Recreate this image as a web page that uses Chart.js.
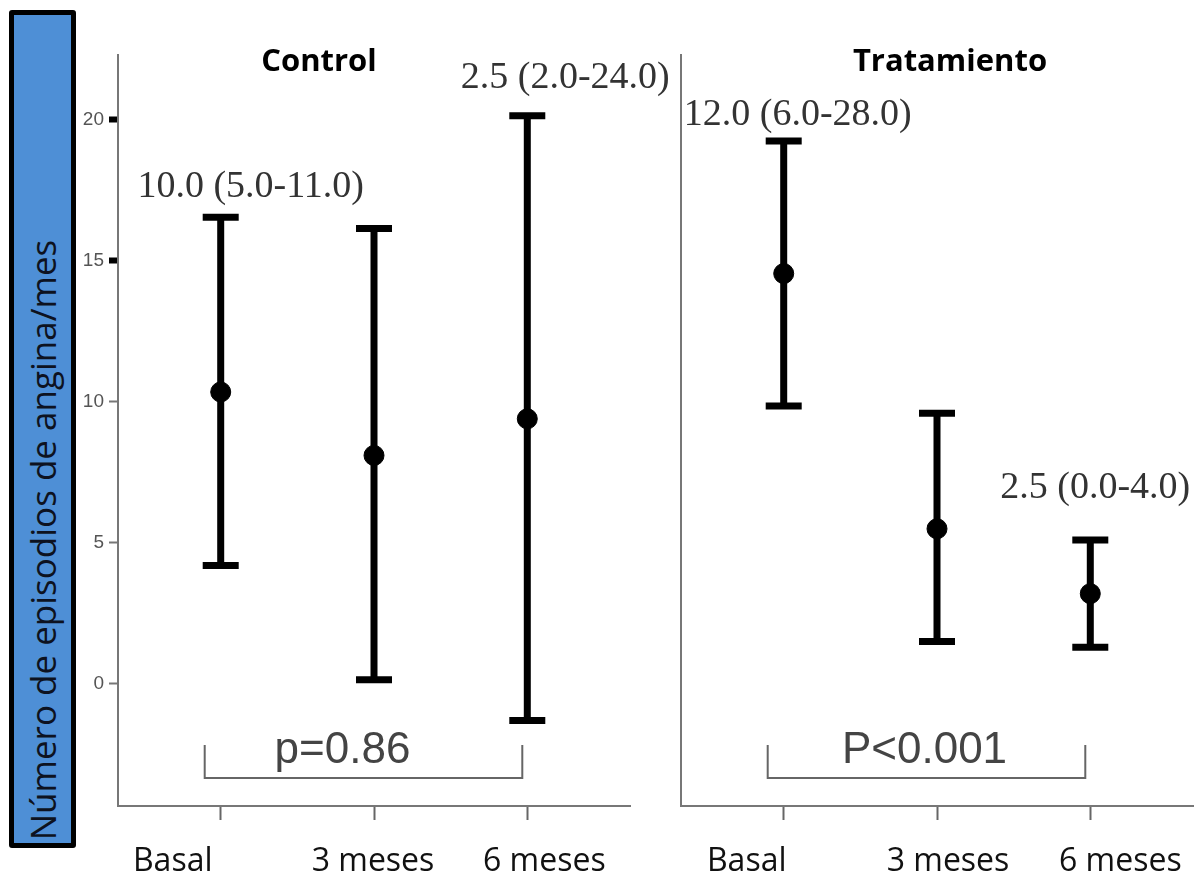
<!DOCTYPE html>
<html>
<head>
<meta charset="utf-8">
<script src="https://cdn.jsdelivr.net/npm/chart.js@4.4.0/dist/chart.umd.min.js"></script>
<style>
    body { margin: 0; background: #fff; width: 1196px; height: 882px; overflow: hidden; position: relative; }
    #ylabel-box { position: absolute; left: 9px; top: 10px; width: 57px; height: 828px; background: #4e8fd6; border: 5px solid #000; border-radius: 3px; }
    #ylabel-text { position: absolute; left: 42px; top: 540px; transform: translate(-50%, -50%) rotate(-90deg); white-space: nowrap;
                   font-family: 'Open Sans', sans-serif; font-size: 35px; color: #0d1220; }
    canvas { position: absolute; top: 0; }
    #chartL { left: 0; }
    #chartR { left: 640px; }
</style>
</head>
<body>
<div id="ylabel-box"></div>
<div id="ylabel-text">Número de episodios de angina/mes</div>
<canvas id="chartR" width="556" height="882"></canvas>
<canvas id="chartL" width="700" height="882"></canvas>
<script>
// === Data ===
const groups = ['Basal', '3 meses', '6 meses'];
const groupPos = [1, 2, 3];
const yTicks = [0, 5, 10, 15, 20];

const ctrlMean = [10.35, 8.1, 9.4];
const ctrlLow = [4.2, 0.15, -1.3];
const ctrlHigh = [16.55, 16.15, 20.15];
const ctrlNotes = ['10.0 (5.0-11.0)', '', '2.5 (2.0-24.0)'];
const ctrlP = 'p=0.86';

const tratMean = [14.55, 5.5, 3.2];
const tratLow = [9.85, 1.5, 1.3];
const tratHigh = [19.25, 9.6, 5.1];
const tratNotes = ['12.0 (6.0-28.0)', '', '2.5 (0.0-4.0)'];
const tratP = 'P<0.001';

// === Overlay text plugin (titles, notes, brackets, x labels) ===
const overlayPlugin = {
    id: 'overlay',
    afterDraw(chart) {
        const o = chart.options.plugins.overlay;
        const { ctx, chartArea } = chart;
        const xs = chart.scales.x, ys = chart.scales.y;
        ctx.save();

        // panel title
        ctx.fillStyle = '#000';
        ctx.font = 'bold 31px "Open Sans", sans-serif';
        ctx.textAlign = 'center';
        ctx.textBaseline = 'middle';
        ctx.fillText(o.title, o.titleX, 62);

        // median (IQR) notes
        ctx.fillStyle = '#333';
        ctx.font = '38px "Liberation Serif", serif';
        o.notes.forEach((txt, i) => {
            if (!txt) return;
            const x = xs.getPixelForValue(groupPos[i]) + o.noteDx[i];
            const y = ys.getPixelForValue(o.high[i]) - o.noteDy[i];
            ctx.fillText(txt, x, y);
        });

        // bracket + p value
        const bx1 = xs.getPixelForValue(groupPos[0]) - 16;
        const bx2 = xs.getPixelForValue(groupPos[2]) - 5;
        const by = chartArea.bottom - 28;
        ctx.strokeStyle = '#666';
        ctx.lineWidth = 2;
        ctx.beginPath();
        ctx.moveTo(bx1, by - 33);
        ctx.lineTo(bx1, by);
        ctx.lineTo(bx2, by);
        ctx.lineTo(bx2, by - 33);
        ctx.stroke();
        ctx.fillStyle = '#444';
        ctx.font = '44px "Liberation Sans", Arial, sans-serif';
        ctx.fillText(o.pText, (bx1 + bx2) / 2 + o.pDx, by - 27);

        // category labels
        ctx.fillStyle = '#111';
        ctx.font = '32px "Open Sans", sans-serif';
        groups.forEach((g, i) => {
            ctx.fillText(g, xs.getPixelForValue(groupPos[i]) + o.labelDx[i], 862);
        });
        ctx.restore();
    }
};

function buildChart(canvasId, cfg) {
    // whiskers: one segment per group, separated by gaps
    const whiskers = [];
    const caps = [];
    groupPos.forEach((x, i) => {
        whiskers.push({ x, y: cfg.low[i] }, { x, y: cfg.high[i] }, { x, y: null });
        caps.push({ x, y: cfg.low[i] }, { x, y: cfg.high[i] });
    });
    return new Chart(document.getElementById(canvasId), {
        type: 'scatter',
        data: {
            datasets: [
                {
                    type: 'line',
                    data: whiskers,
                    showLine: true,
                    spanGaps: false,
                    borderColor: '#000',
                    borderWidth: 7,
                    pointRadius: 0,
                    order: 3
                },
                {
                    data: caps,
                    pointStyle: 'line',
                    pointRadius: 18,
                    borderWidth: 7,
                    borderColor: '#000',
                    order: 2
                },
                {
                    data: groupPos.map((x, i) => ({ x, y: cfg.mean[i] })),
                    pointRadius: 10,
                    backgroundColor: '#000',
                    borderColor: '#000',
                    order: 1
                }
            ]
        },
        options: {
            responsive: false,
            animation: false,
            layout: { autoPadding: false, padding: { left: cfg.padLeft, right: cfg.padRight, top: 55, bottom: 0 } },
            plugins: {
                legend: { display: false },
                tooltip: { enabled: false },
                overlay: cfg.overlay
            },
            scales: {
                x: {
                    type: 'linear',
                    min: 0.33,
                    max: 3.67,
                    afterBuildTicks: s => { s.ticks = groupPos.map(v => ({ value: v })); },
                    afterFit: s => { s.height = 76; },
                    ticks: { display: false },
                    grid: { drawOnChartArea: false, tickLength: 14, tickColor: '#666', tickWidth: 2 },
                    border: { color: '#777', width: 2 }
                },
                y: {
                    min: -4.33,
                    max: 22.3,
                    afterBuildTicks: s => { s.ticks = yTicks.map(v => ({ value: v })); },
                    afterFit: s => { s.width = cfg.yWidth; },
                    ticks: { display: cfg.showYTicks, color: '#555', font: { size: 19, family: 'Liberation Sans' }, padding: 5 },
                    grid: {
                        drawOnChartArea: false,
                        drawTicks: cfg.showYTicks,
                        tickLength: 9,
                        tickColor: c => (c.tick && c.tick.value >= 15 ? '#000' : '#777'),
                        tickWidth: c => (c.tick && c.tick.value >= 15 ? 6 : 2)
                    },
                    border: { color: '#777', width: 2 }
                }
            }
        },
        plugins: [overlayPlugin]
    });
}

buildChart('chartL', {
    mean: ctrlMean, low: ctrlLow, high: ctrlHigh,
    padLeft: 80, padRight: 70, yWidth: 38, showYTicks: true,
    overlay: {
        title: 'Control', titleX: 319,
        notes: ctrlNotes, high: ctrlHigh, noteDx: [30, 0, 38], noteDy: [30, 0, 38],
        pText: ctrlP, pDx: -21,
        labelDx: [-48, -1, 17]
    }
});

buildChart('chartR', {
    mean: tratMean, low: tratLow, high: tratHigh,
    padLeft: 41, padRight: 3, yWidth: 0, showYTicks: false,
    overlay: {
        title: 'Tratamiento', titleX: 310,
        notes: tratNotes, high: tratHigh, noteDx: [14, 0, 5], noteDy: [26, 0, 52],
        pText: tratP, pDx: -2,
        labelDx: [-37, 11, 30]
    }
});
</script>
</body>
</html>
